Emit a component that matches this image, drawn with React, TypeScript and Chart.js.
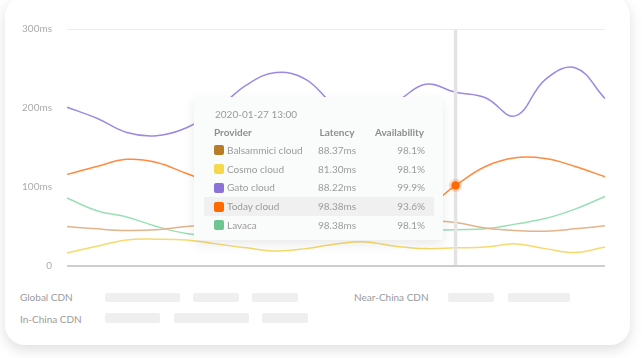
import React, { useEffect, useRef } from 'react';
import { Chart, registerables } from 'chart.js';

Chart.register(...registerables);

const FONT = 'Lato, "Open Sans", sans-serif';

const timeLabels = [
  '2020-01-27 00:00', '2020-01-27 01:00', '2020-01-27 02:00', '2020-01-27 03:00',
  '2020-01-27 04:00', '2020-01-27 05:00', '2020-01-27 06:00', '2020-01-27 07:00',
  '2020-01-27 08:00', '2020-01-27 09:00', '2020-01-27 10:00', '2020-01-27 11:00',
  '2020-01-27 12:00', '2020-01-27 13:00', '2020-01-27 14:00', '2020-01-27 15:00',
  '2020-01-27 16:00', '2020-01-27 17:00', '2020-01-27 18:00',
];
const hoverLabel = '2020-01-27 13:00';

const providers = ['Balsammici cloud', 'Cosmo cloud', 'Gato cloud', 'Today cloud', 'Lavaca'];
const activeProvider = 'Today cloud';
const swatchColors = ['#b97b28', '#f5d84c', '#8b72d9', '#ff6a00', '#6cc692'];
const lineColors = ['#e3b38c', '#f6da6c', '#9c89e3', '#ff8a3c', '#9adfb5'];

const balsammiciValues = [50, 47, 45, 46, 50, 53, 56, 58, 60, 61, 61, 60, 58, 55, 48, 45, 44, 47, 51];
const cosmoValues = [16.5, 25, 33, 34, 33, 28, 23, 19, 22, 28, 30.5, 25, 22, 23, 24, 28, 22, 17, 24];
const gatoValues = [201, 187, 169, 165, 175, 198, 229, 245, 236, 203, 195, 208, 230, 220, 213, 190, 236, 251, 212];
const todayValues = [116, 126, 135, 131, 117, 103, 92, 85, 83, 81, 80, 78, 76, 102, 126, 137, 136, 126, 113];
const lavacaValues = [86, 70, 62, 50, 41, 37, 38, 38, 39, 40, 41, 43, 45, 46, 47, 53, 60, 72, 88];
const seriesValues = [balsammiciValues, cosmoValues, gatoValues, todayValues, lavacaValues];

const tooltipLatency = [88.37, 81.3, 88.22, 98.38, 98.38];
const tooltipAvailability = [98.1, 98.1, 99.9, 93.6, 98.1];

const yMin = 0;
const yMax = 300;
const yStep = 100;

const cdnRowLabels = ['Global CDN', 'In-China CDN'];
const cdnSideLabel = 'Near-China CDN';

const hoverPlugin = {
  id: 'hoverMarker',
  afterDatasetsDraw(chart: any) {
    const idx = timeLabels.indexOf(hoverLabel);
    const x = chart.scales.x.getPixelForValue(idx);
    const { top, bottom } = chart.chartArea;
    const ctx = chart.ctx;
    ctx.save();
    ctx.strokeStyle = '#e3e3e3';
    ctx.lineWidth = 3.5;
    ctx.beginPath();
    ctx.moveTo(x, top + 1);
    ctx.lineTo(x, bottom - 1);
    ctx.stroke();
    const dsIndex = providers.indexOf(activeProvider);
    const pt = chart.getDatasetMeta(dsIndex).data[idx];
    if (pt) {
      ctx.fillStyle = 'rgba(255,120,40,0.28)';
      ctx.beginPath();
      ctx.arc(pt.x, pt.y, 6.5, 0, Math.PI * 2);
      ctx.fill();
      ctx.fillStyle = swatchColors[dsIndex];
      ctx.beginPath();
      ctx.arc(pt.x, pt.y, 4.2, 0, Math.PI * 2);
      ctx.fill();
    }
    ctx.restore();
  },
};

function Bar({ left, top, width }: { left: number; top: number; width: number }) {
  return (
    <div
      style={{
        position: 'absolute',
        left,
        top,
        width,
        height: 9.5,
        background: '#efefef',
        borderRadius: 2,
      }}
    />
  );
}

export default function App() {
  const canvasRef = useRef<HTMLCanvasElement | null>(null);

  useEffect(() => {
    if (!canvasRef.current) return;
    const chart = new Chart(canvasRef.current, {
      type: 'line',
      data: {
        labels: timeLabels,
        datasets: providers.map((name, i) => ({
          label: name,
          data: seriesValues[i],
          borderColor: lineColors[i],
          backgroundColor: lineColors[i],
          borderWidth: 1.5,
          pointRadius: 0,
          pointHoverRadius: 0,
          tension: 0.4,
          fill: false,
        })),
      },
      options: {
        animation: false,
        responsive: false,
        events: [],
        layout: { padding: { top: 29, bottom: 8, left: 0, right: 38 } },
        plugins: {
          legend: { display: false },
          tooltip: { enabled: false },
        },
        scales: {
          x: { type: 'category', display: false, offset: false },
          y: {
            min: yMin,
            max: yMax,
            afterFit(scale: any) {
              scale.width = 67;
            },
            border: { display: false },
            grid: {
              drawTicks: false,
              color: (c: any) =>
                c.tick && c.tick.value === yMax ? '#ececec' : c.tick && c.tick.value === yMin ? '#cdcdcd' : 'rgba(0,0,0,0)',
              lineWidth: (c: any) => (c.tick && c.tick.value === yMin ? 2 : 1),
            },
            ticks: {
              stepSize: yStep,
              padding: 15,
              color: '#aaaaaa',
              font: { family: FONT, size: 10 },
              callback: (v: any) => (Number(v) === 0 ? '0' : `${v}ms`),
            },
          },
        },
      },
      plugins: [hoverPlugin],
    } as any);
    return () => chart.destroy();
  }, []);

  const activeIdx = providers.indexOf(activeProvider);
  const textColor = '#9b9b9b';

  return (
    <div
      style={{
        position: 'fixed',
        left: 0,
        top: 0,
        width: 643,
        height: 358,
        background: '#ffffff',
        overflow: 'hidden',
        fontFamily: FONT,
      }}
    >
      <div
        style={{
          position: 'absolute',
          left: 5,
          top: -4,
          width: 625,
          height: 349,
          background: '#ffffff',
          borderRadius: 20,
          boxShadow: '0 5px 14px rgba(0,0,0,0.13)',
        }}
      />
      <canvas
        ref={canvasRef}
        width={643}
        height={287}
        style={{ position: 'absolute', left: 0, top: 0, width: 643, height: 287 }}
      />

      {/* tooltip */}
      <div
        style={{
          position: 'absolute',
          left: 194,
          top: 97,
          width: 249,
          height: 143,
          background: '#fafbfb',
          boxShadow: '0 4px 12px rgba(0,0,0,0.09)',
          borderRadius: 2,
          fontSize: 10,
          color: textColor,
        }}
      >
        <div style={{ position: 'absolute', left: 21, top: 10, lineHeight: '14px', color: '#9a9a9a' }}>
          {hoverLabel}
        </div>
        <div style={{ position: 'absolute', left: 0, top: 26, width: 249, height: 19, lineHeight: '19px', fontWeight: 700, color: '#8e8e8e' }}>
          <span style={{ position: 'absolute', left: 20 }}>Provider</span>
          <span style={{ position: 'absolute', left: 113, width: 60, textAlign: 'center' }}>Latency</span>
          <span style={{ position: 'absolute', right: 19 }}>Availability</span>
        </div>
        {providers.map((name, i) => {
          const center = 53.3 + i * 18.75;
          return (
            <div
              key={name}
              style={{
                position: 'absolute',
                left: 10,
                top: center - 9.5,
                width: 230,
                height: 19,
                lineHeight: '19px',
                background: i === activeIdx ? '#f0f0f0' : 'transparent',
              }}
            >
              <span
                style={{
                  position: 'absolute',
                  left: 10,
                  top: 4.5,
                  width: 10,
                  height: 10,
                  borderRadius: 2,
                  background: swatchColors[i],
                }}
              />
              <span style={{ position: 'absolute', left: 23 }}>{name}</span>
              <span style={{ position: 'absolute', left: 103, width: 60, textAlign: 'center' }}>
                {tooltipLatency[i].toFixed(2)}ms
              </span>
              <span style={{ position: 'absolute', right: 9 }}>{tooltipAvailability[i].toFixed(1)}%</span>
            </div>
          );
        })}
      </div>

      {/* bottom CDN rows */}
      <div style={{ position: 'absolute', left: 20, top: 290, fontSize: 10, lineHeight: '14px', color: textColor }}>
        {cdnRowLabels[0]}
      </div>
      <div style={{ position: 'absolute', left: 20, top: 312, fontSize: 10, lineHeight: '14px', color: textColor }}>
        {cdnRowLabels[1]}
      </div>
      <div style={{ position: 'absolute', left: 354, top: 290, fontSize: 10, lineHeight: '14px', color: textColor }}>
        {cdnSideLabel}
      </div>
      <Bar left={105} top={292.5} width={75} />
      <Bar left={193} top={292.5} width={46} />
      <Bar left={252} top={292.5} width={46} />
      <Bar left={448} top={292.5} width={46} />
      <Bar left={508} top={292.5} width={62} />
      <Bar left={105} top={313} width={55} />
      <Bar left={174} top={313} width={75} />
      <Bar left={262} top={313} width={46} />
    </div>
  );
}
